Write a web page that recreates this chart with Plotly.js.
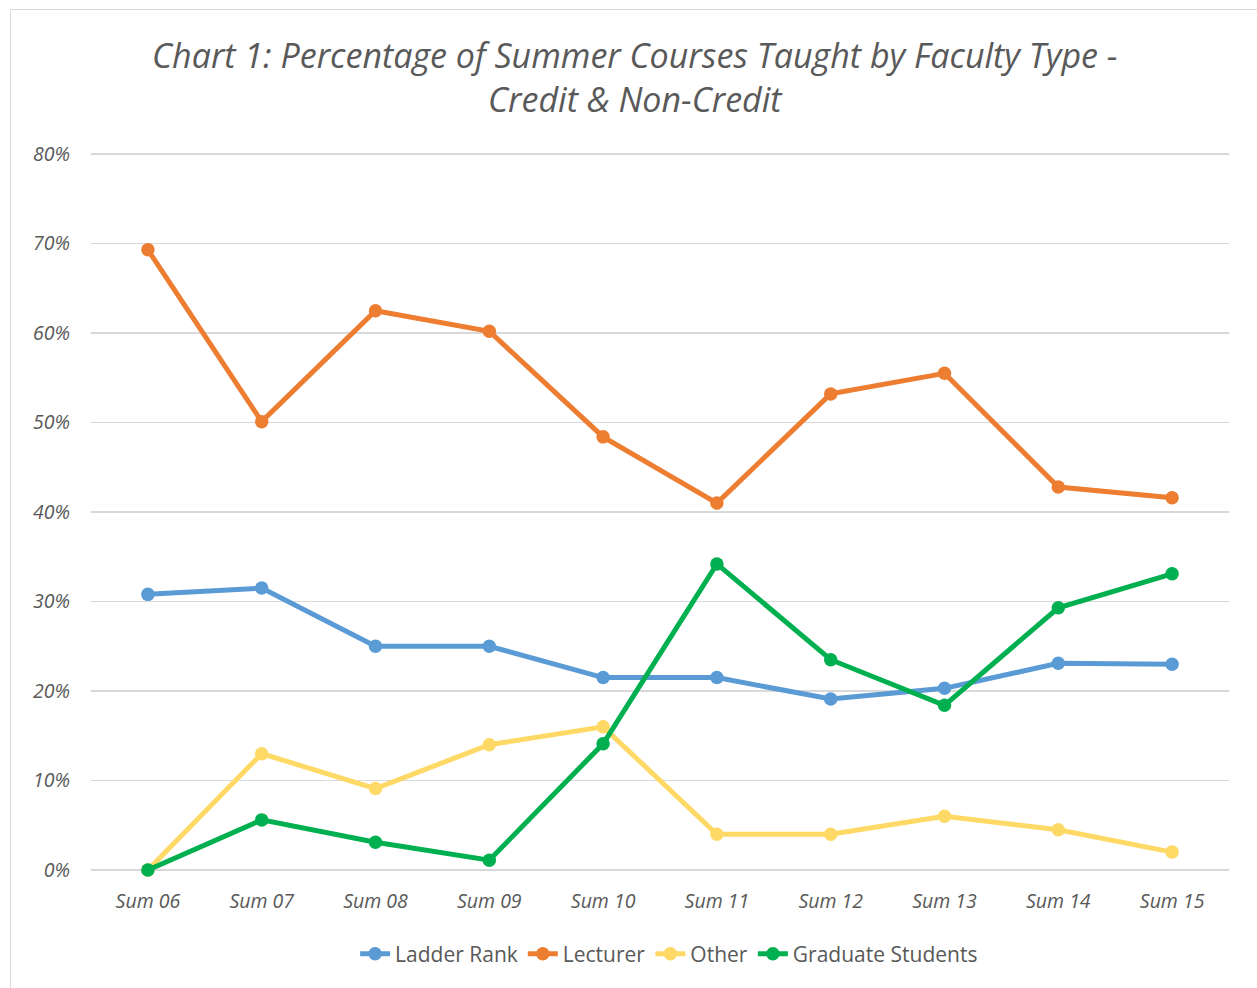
<!DOCTYPE html>
<html><head><meta charset="utf-8">
<script src="https://cdn.plot.ly/plotly-3.0.1.min.js"></script>
<style>
html,body{margin:0;padding:0;background:#fff;}
#wrap{position:relative;width:1257px;height:988px;overflow:hidden;}
#chart{width:1257px;height:988px;}
#frame{position:absolute;left:10px;top:9px;width:1260px;height:1000px;border:1.5px solid #d9d9d9;pointer-events:none;}
</style></head>
<body><div id="wrap"><div id="chart"></div><div id="frame"></div></div>
<script>
const categories = ["Sum 06","Sum 07","Sum 08","Sum 09","Sum 10","Sum 11","Sum 12","Sum 13","Sum 14","Sum 15"];
const ladderRank = [0.308,0.315,0.250,0.250,0.215,0.215,0.191,0.203,0.231,0.230];
const lecturer = [0.693,0.501,0.625,0.602,0.484,0.410,0.532,0.555,0.428,0.416];
const other = [0.000,0.130,0.091,0.140,0.160,0.040,0.040,0.060,0.045,0.020];
const gradStudents = [0.000,0.056,0.031,0.011,0.141,0.342,0.235,0.184,0.293,0.331];
const yTicks = [0,0.1,0.2,0.3,0.4,0.5,0.6,0.7,0.8];
const yTickLabels = ["0%","10%","20%","30%","40%","50%","60%","70%","80%"];

const font = "'Open Sans', Lato, sans-serif";
function tr(name, y, color){
  return {x: categories, y: y, name: name, type: 'scatter', mode: 'lines+markers', cliponaxis: false,
    line: {color: color, width: 5}, marker: {color: color, size: 13.5}};
}
const data = [
  tr("Ladder Rank", ladderRank, "#5b9bd5"),
  tr("Lecturer", lecturer, "#ed7d31"),
  tr("Other", other, "#ffd966"),
  tr("Graduate Students", gradStudents, "#00b050")
];
const layout = {
  width: 1257, height: 988,
  margin: {l: 91, r: 28, t: 153, b: 118, autoexpand: false},
  paper_bgcolor: '#fff', plot_bgcolor: '#fff',
  title: {text: "<i>Chart 1: Percentage of Summer Courses Taught by Faculty Type -<br>Credit & Non-Credit</i>",
    font: {family: font, size: 34, color: '#595959'}, x: 0.505, xanchor: 'center', yref: 'container', y: 0.931, yanchor: 'middle'},
  xaxis: {type: 'category', range: [-0.5, 9.5], showgrid: false, zeroline: false,
    showline: false, ticks: '', ticklabelstandoff: 17,
    tickfont: {family: font, size: 19.5, color: '#595959', style: 'italic'}},
  yaxis: {range: [0, 0.8012], tickvals: yTicks, ticktext: yTickLabels, showgrid: true,
    gridcolor: '#d9d9d9', gridwidth: 1.5, zeroline: true, zerolinecolor: '#d9d9d9', zerolinewidth: 1.5,
    showline: false, ticks: '', ticklabelstandoff: 20,
    tickfont: {family: font, size: 19.5, color: '#595959', style: 'italic'}},
  legend: {orientation: 'h', x: 0.508, xanchor: 'center', yref: 'container', y: 0.0344, yanchor: 'middle',
    font: {family: font, size: 21, color: '#595959'}, tracegroupgap: 0},
  showlegend: true
};
Plotly.newPlot('chart', data, layout, {displayModeBar: false, staticPlot: true});
</script></body></html>
